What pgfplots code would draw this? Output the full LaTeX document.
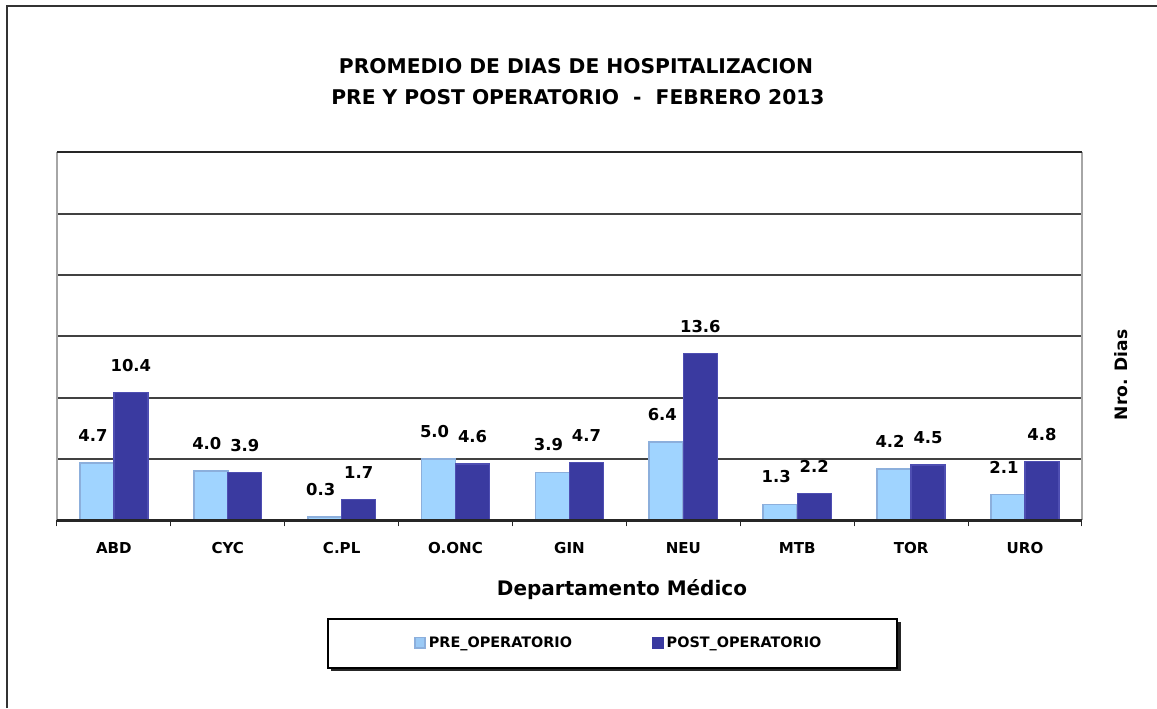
\documentclass[border=0pt]{standalone}
\usepackage{pgfplots}
\pgfplotsset{compat=1.18}
\usepackage{fontspec}
\setmainfont{DejaVu Sans}
\definecolor{prefill}{RGB}{160,212,255}
\definecolor{predraw}{RGB}{140,175,220}
\definecolor{postfill}{RGB}{58,58,160}
\definecolor{postdraw}{RGB}{78,78,178}
\definecolor{gridc}{RGB}{65,65,65}
\begin{document}
\begin{tikzpicture}[x=0.75pt,y=0.75pt]
\useasboundingbox (0,0) rectangle (1157,708);
% outer frame (left and top edges)
\draw[line width=1.5pt, black!80] (7,0) -- (7,702) -- (1157,702);
% title
\node[font=\bfseries\fontsize{15.2}{17}\selectfont] at (576,642) {PROMEDIO DE DIAS DE HOSPITALIZACION};
\node[font=\bfseries\fontsize{15.2}{17}\selectfont] at (578,611) {PRE Y POST OPERATORIO\ \ -\ \ FEBRERO 2013};
% legend box with shadow
\fill[black!85] (331,37) rectangle (901,86);
\draw[line width=1pt, black, fill=white] (328,40) rectangle (897,89);
\begin{axis}[
  at={(50,153)}, anchor=south west,
  scale only axis, width=768.75pt, height=276pt,
  ymin=0, ymax=30,
  xmin=-0.5, xmax=8.5,
  ybar, bar width=25.5pt,
  xtick={0,...,8},
  xticklabels={ABD,CYC,C.PL,O.ONC,GIN,NEU,MTB,TOR,URO},
  minor xtick={-0.5,0.5,...,8.5},
  x tick style={draw=none},
  minor x tick style={draw=black!85, line width=0.8pt},
  minor tick length=4.5pt,
  tick align=outside, tick pos=bottom,
  ytick={0,5,...,30}, yticklabels={},
  y tick style={draw=none},
  ymajorgrids, major grid style={gridc, line width=1.3pt},
  axis line style={draw=none},
  after end axis/.code={
    \draw[black!35, line width=1.3pt] (rel axis cs:0,0) -- (rel axis cs:0,1);
    \draw[black!35, line width=1.3pt] (rel axis cs:1,0) -- (rel axis cs:1,1);
    \draw[black!85, line width=1.4pt] (rel axis cs:0,1) -- (rel axis cs:1,1);
    \draw[black!85, line width=1.8pt] (rel axis cs:0,0) -- (rel axis cs:1,0);
  },
  xticklabel style={font=\bfseries\fontsize{11.3}{13}\selectfont, yshift=-9pt},
  point meta=explicit,
  /pgf/number format/assume math mode=true,
  nodes near coords={\pgfmathprintnumber[fixed,precision=1,zerofill,assume math mode=true]{\pgfplotspointmeta}},
  nodes near coords style={font=\bfseries\fontsize{12.3}{14}\selectfont, anchor=south, yshift=12pt},
  legend style={at={(0.344,-0.333)}, anchor=west, draw=none, fill=none,
    legend columns=2, font=\bfseries\fontsize{10.8}{12}\selectfont,
    /tikz/every even column/.append style={column sep=58pt}},
  legend cell align=left,
]
\addplot[fill=prefill, draw=predraw, line width=1.3pt, bar shift=-12.75pt,
  nodes near coords style={xshift=-3pt},
  legend image code/.code={\fill[prefill!70!predraw, draw=predraw] (0pt,-4pt) rectangle (8pt,4pt);}]
  coordinates {(0,4.7)[4.7] (1,4.0)[4.0] (2,0.3)[0.3] (3,5.0)[5.0] (4,3.9)[3.9] (5,6.4)[6.4] (6,1.3)[1.3] (7,4.2)[4.2] (8,2.1)[2.1]};
\addplot[fill=postfill, draw=postdraw, line width=1pt, bar shift=12.75pt,
  legend image code/.code={\fill[postfill] (0pt,-4pt) rectangle (8pt,4pt);}]
  coordinates {(0,10.4)[10.4] (1,3.9)[3.9] (2,1.7)[1.7] (3,4.6)[4.6] (4,4.7)[4.7] (5,13.6)[13.6] (6,2.2)[2.2] (7,4.5)[4.5] (8,4.8)[4.8]};
\legend{PRE\_OPERATORIO, POST\_OPERATORIO}
\end{axis}
\node[font=\bfseries\fontsize{15}{17}\selectfont] at (622,118) {Departamento Médico};
\node[font=\bfseries\fontsize{12.8}{14}\selectfont, rotate=90] at (1121,333) {Nro. Dias};
\end{tikzpicture}
\end{document}
